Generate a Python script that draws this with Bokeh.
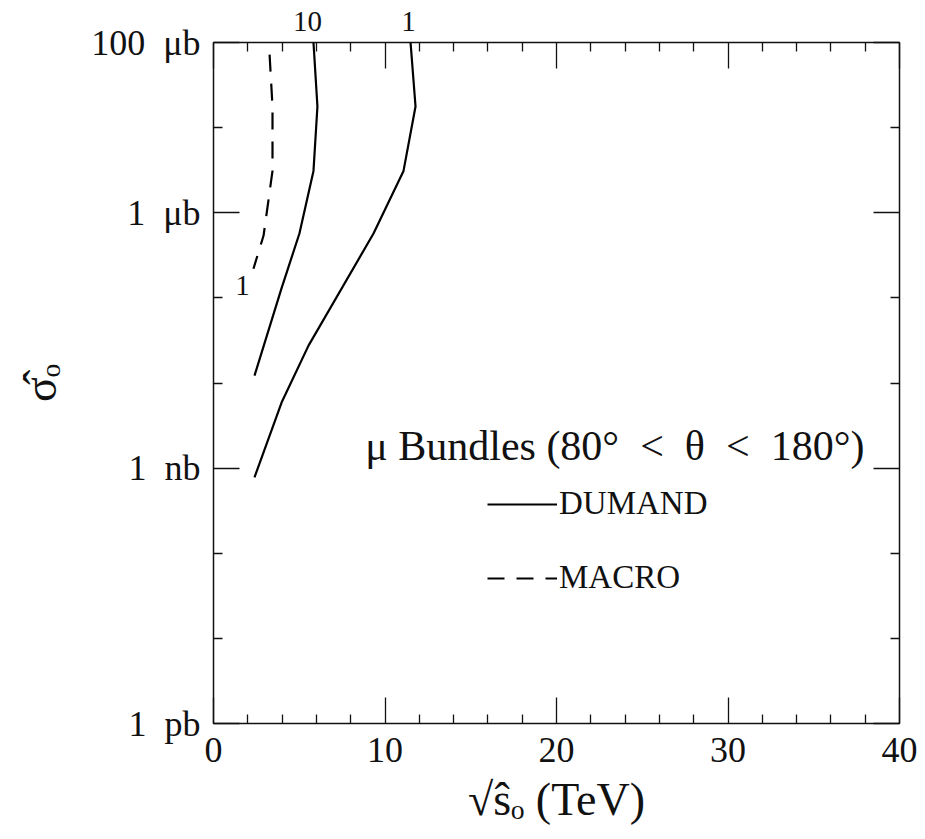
from bokeh.plotting import figure
from bokeh.models import (FixedTicker, LinearAxis, LogAxis, Label, Legend, LegendItem, Range1d,
                          CustomJSTickFormatter)
from bokeh.embed import file_html
from bokeh.resources import INLINE

# ---- data (cross section in pb, sqrt(s0) in TeV) ----
dumand_10_x = [5.83, 6.06, 5.83, 5.01, 3.97, 2.39]
dumand_10_sigma = [1.0e8, 1.77e7, 3.1e6, 5.7e5, 1.3e5, 1.22e4]

dumand_1_x = [11.49, 11.78, 11.08, 9.33, 5.54, 3.97, 2.39]
dumand_1_sigma = [1.0e8, 1.77e7, 3.1e6, 5.7e5, 2.75e4, 5.9e3, 7.8e2]

macro_1_x = [3.27, 3.44, 3.44, 2.92, 2.33]
macro_1_sigma = [7.2e7, 1.77e7, 3.1e6, 5.4e5, 2.2e5]

# curve labels along the top edge
top_label_x = [5.48, 11.37]
top_label_text = ["10", "1"]

x_major = [0, 10, 20, 30, 40]
x_minor = [2, 4, 6, 8, 12, 14, 16, 18, 22, 24, 26, 28, 32, 34, 36, 38]
y_major = [1, 1000, 1000000, 100000000]
y_minor = [10, 100, 10000, 100000, 10000000]
y_labels = {1: "1\u2002pb", 1000: "1\u2002nb", 1000000: "1\u2002\u03bcb", 100000000: "100\u2002\u03bcb"}

FONT = "Liberation Serif"
INK = "#111111"

p = figure(width=925, height=839, output_backend="svg", toolbar_location=None,
           y_axis_type="log", x_range=Range1d(0, 40), y_range=Range1d(1, 1e8),
           min_border_left=213, min_border_right=26, min_border_top=42, min_border_bottom=116,
           x_axis_location=None, y_axis_location=None)
p.grid.visible = False
p.outline_line_color = INK
p.outline_line_width = 1.5
p.background_fill_color = "white"
p.border_fill_color = "white"


def style_axis(ax, show_labels):
    ax.axis_line_color = None
    ax.major_tick_line_color = INK
    ax.minor_tick_line_color = INK
    ax.major_tick_line_width = 1.3
    ax.minor_tick_line_width = 1.3
    ax.major_tick_in = 26
    ax.major_tick_out = 0
    ax.minor_tick_in = 9
    ax.minor_tick_out = 0
    ax.major_label_text_font = FONT
    ax.major_label_text_color = INK
    ax.axis_label_text_font = FONT
    ax.axis_label_text_font_style = "normal"
    ax.axis_label_text_color = INK
    if not show_labels:
        ax.formatter = CustomJSTickFormatter(code="return ' '")
        ax.major_label_text_font_size = "1px"
        ax.major_label_text_alpha = 0
        ax.major_label_standoff = 0


xt = FixedTicker(ticks=x_major, minor_ticks=x_minor)
yt = FixedTicker(ticks=y_major, minor_ticks=y_minor)

xb = LinearAxis(ticker=xt, axis_label="\u221as\u0302\u2092 (TeV)")
style_axis(xb, True)
xb.major_label_text_font_size = "36px"
xb.major_label_standoff = 14
xb.axis_label_text_font_size = "46px"
xb.axis_label_standoff = 9
p.add_layout(xb, "below")

# top frame ticks (innermost)
xa = LinearAxis(ticker=xt)
style_axis(xa, False)
p.add_layout(xa, "above")

# curve labels above the frame, drawn as an untick'd axis
xlab = LinearAxis(ticker=FixedTicker(ticks=top_label_x, minor_ticks=[]),
                  formatter=CustomJSTickFormatter(
                      args=dict(xs=top_label_x, labels=top_label_text),
                      code="""
let best = 0, d = 1e9;
for (let i = 0; i < xs.length; i++) {
  const e = Math.abs(xs[i] - tick);
  if (e < d) { d = e; best = i; }
}
return labels[best];
"""))
xlab.axis_line_color = None
xlab.major_tick_in = 0
xlab.major_tick_out = 0
xlab.minor_tick_in = 0
xlab.minor_tick_out = 0
xlab.major_tick_line_color = None
xlab.minor_tick_line_color = None
xlab.major_label_standoff = 12
xlab.major_label_text_font = FONT
xlab.major_label_text_font_size = "29px"
xlab.major_label_text_color = INK
p.add_layout(xlab, "above")

yl = LogAxis(ticker=yt, axis_label="\u03c3\u0302\u2092", major_label_overrides=y_labels)
style_axis(yl, True)
yl.major_label_text_font_size = "36px"
yl.major_label_standoff = 13
yl.axis_label_text_font_size = "46px"
yl.axis_label_standoff = 22
p.add_layout(yl, "left")

yr = LogAxis(ticker=yt)
style_axis(yr, False)
p.add_layout(yr, "right")

r10 = p.line(dumand_10_x, dumand_10_sigma, line_color="black", line_width=2.2)
r1 = p.line(dumand_1_x, dumand_1_sigma, line_color="black", line_width=2.2)
rm = p.line(macro_1_x, macro_1_sigma, line_color="black", line_width=2.2, line_dash="17 12")

p.add_layout(Label(x=1.69, y=1.4e5, text="1", text_font=FONT, text_font_size="29px",
                   text_align="center", text_baseline="middle", text_color=INK))

p.add_layout(Label(x=23.4, y=1.84e3,
                   text="\u03bc Bundles (80\u00b0\u2002<\u2002\u03b8\u2002<\u2002180\u00b0)",
                   text_font=FONT, text_font_size="42px", text_align="center",
                   text_baseline="middle", text_color=INK))

legend = Legend(items=[LegendItem(label="DUMAND", renderers=[r10]),
                       LegendItem(label="MACRO", renderers=[rm])],
                location=(274, 127), orientation="vertical",
                glyph_width=70, glyph_height=30, label_height=30, spacing=37,
                padding=0, margin=0, border_line_alpha=0, background_fill_alpha=0,
                label_text_font=FONT, label_text_font_size="33px", label_standoff=2,
                label_text_color=INK)
p.add_layout(legend, "center")

open("out.html", "w").write(file_html(p, INLINE))
